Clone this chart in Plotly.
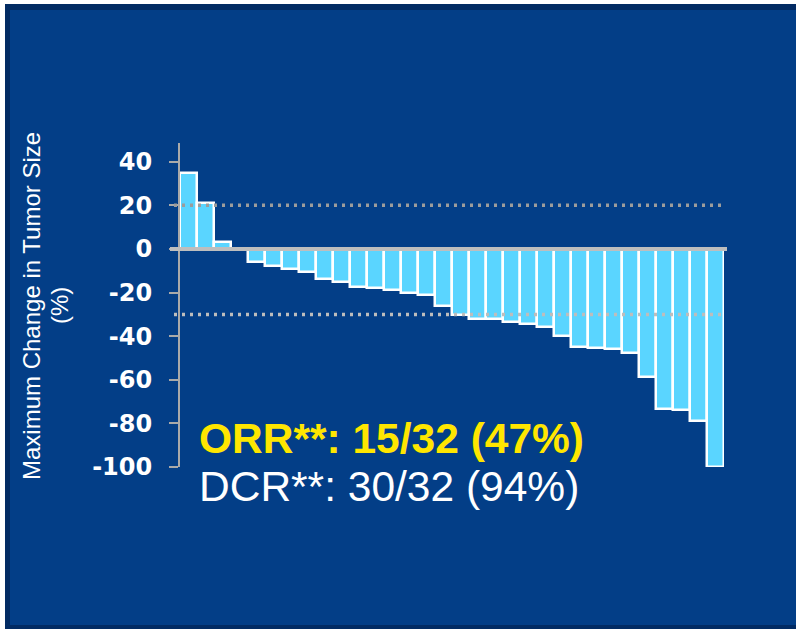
import plotly.graph_objects as go

# Best percentage change from baseline in tumour size, one bar per patient
patients = list(range(1, 33))
max_change = [35, 21, 3, 0, -6, -8, -9, -10.5, -14, -15, -17.5, -18,
              -19, -20, -21, -26, -30.5, -32, -32.3, -33.5, -34.6, -36,
              -40, -45, -45.5, -46, -47.6, -58.5, -73.5, -74, -79, -100]

# Response thresholds (progression / partial response)
pd_threshold = 20
pr_threshold = -30

y_ticks = [40, 20, 0, -20, -40, -60, -80, -100]
y_tick_text = ["40", "20", "0", "-20", "-40", "-60", "-80", "-100"]

orr_text = "<b>ORR**: 15/32 (47%)</b>"
dcr_text = "DCR**: 30/32 (94%)"
y_title_1 = "Maximum Change in Tumor Size"
y_title_2 = "(%)"

W, H = 796, 629
L, R, T, B = 180, 72, 143, 162
PW, PH = W - L - R, H - T - B

BG = "#033E87"
BORDER = "#022B63"
BAR = "#5AD5FF"
AXIS = "#A9A9A9"


def px_x(px):
    return (px - L) / PW


def px_y(py):
    return (H - B - py) / PH


fig = go.Figure()
fig.add_trace(go.Bar(
    x=patients, y=max_change,
    marker=dict(color=BAR, line=dict(color="white", width=2.5)),
    hoverinfo="skip",
))

shapes = [
    # page edge and dark frame around the slide panel
    dict(type="rect", xref="paper", yref="paper", layer="below",
         x0=px_x(-2), x1=px_x(W + 4), y0=px_y(H + 4), y1=px_y(-2),
         fillcolor="white", line=dict(width=0)),
    dict(type="rect", xref="paper", yref="paper", layer="below",
         x0=px_x(5), x1=px_x(W + 4), y0=px_y(H + 4), y1=px_y(4),
         fillcolor=BORDER, line=dict(width=0)),
    dict(type="rect", xref="paper", yref="paper", layer="below",
         x0=px_x(10), x1=px_x(W + 4), y0=px_y(625), y1=px_y(10),
         fillcolor=BG, line=dict(width=0)),
    # threshold lines
    dict(type="line", xref="paper", yref="y", layer="above",
         x0=px_x(174), x1=px_x(726), y0=pd_threshold, y1=pd_threshold,
         line=dict(color="#9C9C9C", width=3.5, dash="3px,5px")),
    dict(type="line", xref="paper", yref="y", layer="above",
         x0=px_x(174), x1=px_x(726), y0=pr_threshold, y1=pr_threshold,
         line=dict(color="#BDBDBD", width=3.5, dash="3px,5px")),
    # baseline at 0 %
    dict(type="line", xref="paper", yref="y", layer="above",
         x0=px_x(170), x1=px_x(727), y0=0, y1=0,
         line=dict(color="#BEBEBE", width=4)),
]

annotations = [
    dict(xref="paper", yref="paper", x=px_x(197), y=px_y(438),
         xanchor="left", yanchor="middle", showarrow=False, text=orr_text,
         font=dict(family="Liberation Sans", size=42.5, color="#FFE600")),
    dict(xref="paper", yref="paper", x=px_x(197), y=px_y(486),
         xanchor="left", yanchor="middle", showarrow=False, text=dcr_text,
         font=dict(family="Liberation Sans", size=42.5, color="white")),
    dict(xref="paper", yref="paper", x=px_x(31), y=px_y(306),
         xanchor="center", yanchor="middle", showarrow=False,
         text=y_title_1, textangle=-90,
         font=dict(family="Liberation Sans", size=24, color="white")),
    dict(xref="paper", yref="paper", x=px_x(59), y=px_y(306),
         xanchor="center", yanchor="middle", showarrow=False,
         text=y_title_2, textangle=-90,
         font=dict(family="Liberation Sans", size=24, color="white")),
]

fig.update_layout(
    width=W, height=H,
    margin=dict(l=L, r=R, t=T, b=B, pad=0),
    paper_bgcolor=BG, plot_bgcolor=BG,
    showlegend=False, bargap=0,
    shapes=shapes, annotations=annotations,
    xaxis=dict(visible=False, range=[0.5, 32.5], fixedrange=True),
    yaxis=dict(
        range=[-100, 48.6], showgrid=False, zeroline=False,
        showline=True, linecolor=AXIS, linewidth=2,
        ticks="outside", ticklen=9, tickwidth=2, tickcolor=AXIS,
        tickvals=y_ticks, ticktext=y_tick_text,
        tickfont=dict(family="DejaVu Sans", size=24, color="white",
                      weight="bold"),
        ticklabelstandoff=12,
        fixedrange=True,
    ),
)

fig.write_html("out.html", config=dict(displayModeBar=False))
